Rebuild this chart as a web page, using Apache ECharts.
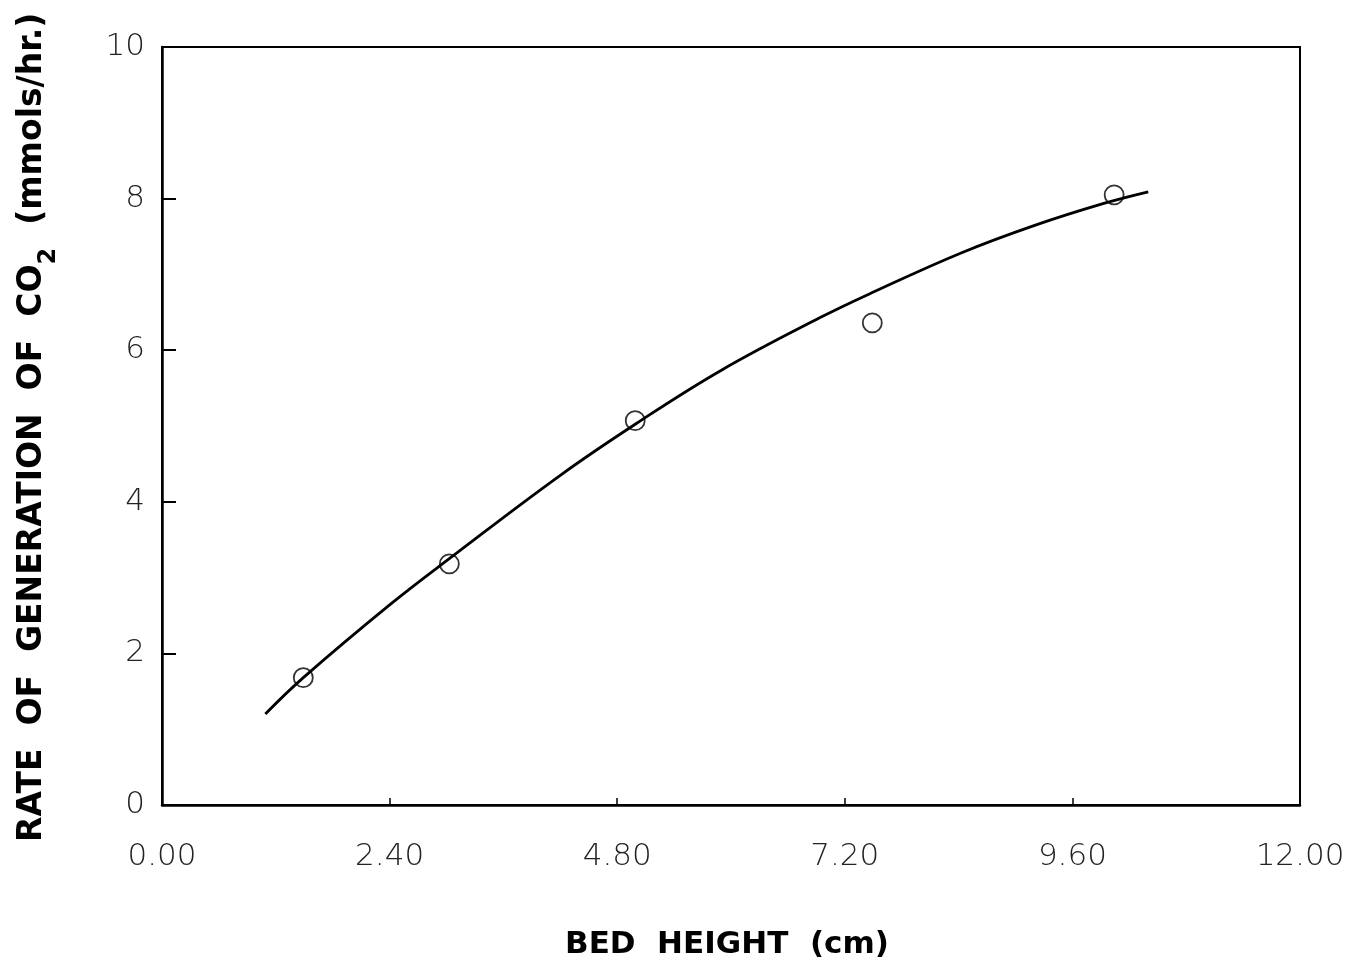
<!DOCTYPE html>
<html>
<head>
<meta charset="utf-8">
<script src="https://cdn.jsdelivr.net/npm/echarts@6/dist/echarts.min.js"></script>
<style>
html,body{margin:0;padding:0;background:#fff;}
#chart{width:1357px;height:962px;}
</style>
</head>
<body>
<div id="chart"></div>
<script>
// Measured data points (bed height cm, CO2 rate mmols/hr)
const pointX = [1.49, 3.03, 4.99, 7.49, 10.04];
const pointY = [1.68, 3.18, 5.07, 6.36, 8.05];

// Fitted curve
const curveX = [1.09, 1.49, 2.41, 3.04, 4.20, 5.01, 5.89, 6.94, 7.49, 8.42, 9.21, 9.94, 10.40];
const curveY = [1.20, 1.68, 2.65, 3.26, 4.35, 5.04, 5.73, 6.43, 6.76, 7.28, 7.65, 7.94, 8.09];

// Axis ticks
const xTickValues = [0, 2.4, 4.8, 7.2, 9.6, 12];
const yTickValues = [0, 2, 4, 6, 8, 10];

const xTitle = 'BED  HEIGHT  (cm)';
const yTitleMain = 'RATE  OF  GENERATION  OF  CO';
const yTitleSub = '2';
const yTitleUnit = '  (mmols/hr.)';

const chart = echarts.init(document.getElementById('chart'), null, {renderer: 'canvas'});

const labelFont = {fontFamily: 'DejaVu Sans', fontWeight: 300, color: '#222', fontSize: 31};

const option = {
  backgroundColor: '#fff',
  animation: false,
  grid: {left: 162, right: 57, top: 47, bottom: 157, show: true, borderColor: '#000', borderWidth: 2, backgroundColor: 'transparent'},
  xAxis: {
    type: 'value', min: xTickValues[0], max: xTickValues[xTickValues.length - 1], interval: 2.4,
    axisLine: {show: true, lineStyle: {color: '#000', width: 2.5}},
    axisTick: {show: true, inside: true, length: 7, lineStyle: {color: '#000', width: 1.5}},
    splitLine: {show: false},
    axisLabel: Object.assign({margin: 36, formatter: v => v.toFixed(2)}, labelFont)
  },
  yAxis: {
    type: 'value', min: yTickValues[0], max: yTickValues[yTickValues.length - 1], interval: 2,
    axisLine: {show: true, lineStyle: {color: '#000', width: 2.5}},
    axisTick: {show: true, inside: true, length: 14, lineStyle: {color: '#000', width: 2}},
    splitLine: {show: false},
    axisLabel: Object.assign({margin: 17}, labelFont)
  },
  graphic: [
    {
      type: 'text', left: 565, top: 929,
      style: {text: xTitle, font: 'bold 31px "DejaVu Sans", sans-serif', fill: '#000'}
    },
    {
      type: 'text', x: 16, y: 842, rotation: Math.PI / 2,
      style: {
        text: '{m|' + yTitleMain + '}{s|' + yTitleSub + '}{m|' + yTitleUnit + '}',
        rich: {
          m: {font: 'bold 33px "DejaVu Sans", sans-serif', fill: '#000', verticalAlign: 'bottom'},
          s: {font: 'bold 24px "DejaVu Sans", sans-serif', fill: '#000', padding: [0, 0, -12, 0], verticalAlign: 'bottom'}
        }
      }
    }
  ],
  series: [
    {
      type: 'line', smooth: 0.4, showSymbol: false,
      data: curveX.map((x, i) => [x, curveY[i]]),
      lineStyle: {color: '#000', width: 2.8}, z: 2
    },
    {
      type: 'scatter', symbol: 'circle', symbolSize: 19,
      data: pointX.map((x, i) => [x, pointY[i]]),
      itemStyle: {color: 'rgba(0,0,0,0)', borderColor: '#000', borderWidth: 1.8}, z: 3
    }
  ]
};
chart.setOption(option);
</script>
</body>
</html>
